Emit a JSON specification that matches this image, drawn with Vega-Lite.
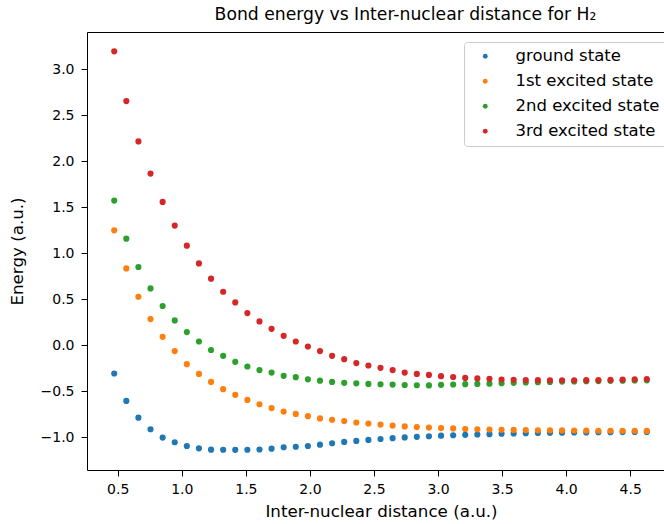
{
  "$schema": "https://vega.github.io/schema/vega-lite/v6.json",
  "autosize": "none",
  "padding": {"left": 87, "top": 32, "right": 0, "bottom": 54},
  "width": 577,
  "height": 438,
  "background": "white",
  "config": {
    "font": "DejaVu Sans",
    "view": {"stroke": null},
    "axis": {
      "grid": false,
      "domainColor": "#000",
      "domainWidth": 1,
      "tickColor": "#000",
      "tickWidth": 1,
      "tickSize": 6,
      "labelFont": "DejaVu Sans",
      "labelFontSize": 14,
      "labelColor": "#000",
      "labelPadding": 6,
      "titleFont": "DejaVu Sans",
      "titleFontSize": 16.7,
      "titleFontWeight": "normal",
      "titleColor": "#000"
    },
    "legend": {
      "orient": "none",
      "legendX": 377,
      "legendY": 10,
      "fillColor": "white",
      "strokeColor": "#cccccc",
      "cornerRadius": 3,
      "padding": 6,
      "labelFont": "DejaVu Sans",
      "labelFontSize": 16.5,
      "labelColor": "#000",
      "symbolType": "circle",
      "symbolSize": 24,
      "symbolStrokeWidth": 0,
      "symbolOffset": 7,
      "labelOffset": 22,
      "rowPadding": 8
    }
  },
  "title": {
    "text": "Bond energy vs Inter-nuclear distance for H₂",
    "fontSize": 17.2,
    "fontWeight": "normal",
    "font": "DejaVu Sans",
    "color": "#000",
    "anchor": "middle",
    "dx": 30,
    "offset": 9
  },
  "data": {
    "values": [
      {"x": 0.4724, "E": -0.307, "state": "ground state"},
      {"x": 0.5669, "E": -0.605, "state": "ground state"},
      {"x": 0.6614, "E": -0.787, "state": "ground state"},
      {"x": 0.7559, "E": -0.913, "state": "ground state"},
      {"x": 0.8504, "E": -1.004, "state": "ground state"},
      {"x": 0.9449, "E": -1.054, "state": "ground state"},
      {"x": 1.0394, "E": -1.095, "state": "ground state"},
      {"x": 1.1338, "E": -1.120, "state": "ground state"},
      {"x": 1.2283, "E": -1.135, "state": "ground state"},
      {"x": 1.3228, "E": -1.136, "state": "ground state"},
      {"x": 1.4173, "E": -1.137, "state": "ground state"},
      {"x": 1.5118, "E": -1.136, "state": "ground state"},
      {"x": 1.6063, "E": -1.133, "state": "ground state"},
      {"x": 1.7008, "E": -1.124, "state": "ground state"},
      {"x": 1.7952, "E": -1.109, "state": "ground state"},
      {"x": 1.8897, "E": -1.103, "state": "ground state"},
      {"x": 1.9842, "E": -1.095, "state": "ground state"},
      {"x": 2.0787, "E": -1.081, "state": "ground state"},
      {"x": 2.1732, "E": -1.065, "state": "ground state"},
      {"x": 2.2677, "E": -1.051, "state": "ground state"},
      {"x": 2.3622, "E": -1.040, "state": "ground state"},
      {"x": 2.4566, "E": -1.029, "state": "ground state"},
      {"x": 2.5511, "E": -1.019, "state": "ground state"},
      {"x": 2.6456, "E": -1.010, "state": "ground state"},
      {"x": 2.7401, "E": -1.002, "state": "ground state"},
      {"x": 2.8346, "E": -0.995, "state": "ground state"},
      {"x": 2.9291, "E": -0.989, "state": "ground state"},
      {"x": 3.0236, "E": -0.983, "state": "ground state"},
      {"x": 3.1181, "E": -0.978, "state": "ground state"},
      {"x": 3.2125, "E": -0.974, "state": "ground state"},
      {"x": 3.3070, "E": -0.970, "state": "ground state"},
      {"x": 3.4015, "E": -0.966, "state": "ground state"},
      {"x": 3.4960, "E": -0.962, "state": "ground state"},
      {"x": 3.5905, "E": -0.959, "state": "ground state"},
      {"x": 3.6850, "E": -0.956, "state": "ground state"},
      {"x": 3.7795, "E": -0.954, "state": "ground state"},
      {"x": 3.8739, "E": -0.952, "state": "ground state"},
      {"x": 3.9684, "E": -0.950, "state": "ground state"},
      {"x": 4.0629, "E": -0.948, "state": "ground state"},
      {"x": 4.1574, "E": -0.947, "state": "ground state"},
      {"x": 4.2519, "E": -0.946, "state": "ground state"},
      {"x": 4.3464, "E": -0.945, "state": "ground state"},
      {"x": 4.4409, "E": -0.944, "state": "ground state"},
      {"x": 4.5353, "E": -0.943, "state": "ground state"},
      {"x": 4.6298, "E": -0.942, "state": "ground state"},

      {"x": 0.4724, "E": 1.250, "state": "1st excited state"},
      {"x": 0.5669, "E": 0.836, "state": "1st excited state"},
      {"x": 0.6614, "E": 0.528, "state": "1st excited state"},
      {"x": 0.7559, "E": 0.285, "state": "1st excited state"},
      {"x": 0.8504, "E": 0.092, "state": "1st excited state"},
      {"x": 0.9449, "E": -0.063, "state": "1st excited state"},
      {"x": 1.0394, "E": -0.205, "state": "1st excited state"},
      {"x": 1.1338, "E": -0.311, "state": "1st excited state"},
      {"x": 1.2283, "E": -0.398, "state": "1st excited state"},
      {"x": 1.3228, "E": -0.477, "state": "1st excited state"},
      {"x": 1.4173, "E": -0.539, "state": "1st excited state"},
      {"x": 1.5118, "E": -0.594, "state": "1st excited state"},
      {"x": 1.6063, "E": -0.641, "state": "1st excited state"},
      {"x": 1.7008, "E": -0.683, "state": "1st excited state"},
      {"x": 1.7952, "E": -0.721, "state": "1st excited state"},
      {"x": 1.8897, "E": -0.746, "state": "1st excited state"},
      {"x": 1.9842, "E": -0.771, "state": "1st excited state"},
      {"x": 2.0787, "E": -0.795, "state": "1st excited state"},
      {"x": 2.1732, "E": -0.810, "state": "1st excited state"},
      {"x": 2.2677, "E": -0.824, "state": "1st excited state"},
      {"x": 2.3622, "E": -0.840, "state": "1st excited state"},
      {"x": 2.4566, "E": -0.850, "state": "1st excited state"},
      {"x": 2.5511, "E": -0.862, "state": "1st excited state"},
      {"x": 2.6456, "E": -0.873, "state": "1st excited state"},
      {"x": 2.7401, "E": -0.882, "state": "1st excited state"},
      {"x": 2.8346, "E": -0.889, "state": "1st excited state"},
      {"x": 2.9291, "E": -0.895, "state": "1st excited state"},
      {"x": 3.0236, "E": -0.900, "state": "1st excited state"},
      {"x": 3.1181, "E": -0.904, "state": "1st excited state"},
      {"x": 3.2125, "E": -0.910, "state": "1st excited state"},
      {"x": 3.3070, "E": -0.913, "state": "1st excited state"},
      {"x": 3.4015, "E": -0.916, "state": "1st excited state"},
      {"x": 3.4960, "E": -0.918, "state": "1st excited state"},
      {"x": 3.5905, "E": -0.920, "state": "1st excited state"},
      {"x": 3.6850, "E": -0.922, "state": "1st excited state"},
      {"x": 3.7795, "E": -0.924, "state": "1st excited state"},
      {"x": 3.8739, "E": -0.925, "state": "1st excited state"},
      {"x": 3.9684, "E": -0.926, "state": "1st excited state"},
      {"x": 4.0629, "E": -0.927, "state": "1st excited state"},
      {"x": 4.1574, "E": -0.928, "state": "1st excited state"},
      {"x": 4.2519, "E": -0.929, "state": "1st excited state"},
      {"x": 4.3464, "E": -0.929, "state": "1st excited state"},
      {"x": 4.4409, "E": -0.930, "state": "1st excited state"},
      {"x": 4.5353, "E": -0.930, "state": "1st excited state"},
      {"x": 4.6298, "E": -0.931, "state": "1st excited state"},

      {"x": 0.4724, "E": 1.573, "state": "2nd excited state"},
      {"x": 0.5669, "E": 1.159, "state": "2nd excited state"},
      {"x": 0.6614, "E": 0.851, "state": "2nd excited state"},
      {"x": 0.7559, "E": 0.618, "state": "2nd excited state"},
      {"x": 0.8504, "E": 0.427, "state": "2nd excited state"},
      {"x": 0.9449, "E": 0.270, "state": "2nd excited state"},
      {"x": 1.0394, "E": 0.143, "state": "2nd excited state"},
      {"x": 1.1338, "E": 0.041, "state": "2nd excited state"},
      {"x": 1.2283, "E": -0.051, "state": "2nd excited state"},
      {"x": 1.3228, "E": -0.115, "state": "2nd excited state"},
      {"x": 1.4173, "E": -0.180, "state": "2nd excited state"},
      {"x": 1.5118, "E": -0.231, "state": "2nd excited state"},
      {"x": 1.6063, "E": -0.270, "state": "2nd excited state"},
      {"x": 1.7008, "E": -0.297, "state": "2nd excited state"},
      {"x": 1.7952, "E": -0.332, "state": "2nd excited state"},
      {"x": 1.8897, "E": -0.347, "state": "2nd excited state"},
      {"x": 1.9842, "E": -0.370, "state": "2nd excited state"},
      {"x": 2.0787, "E": -0.385, "state": "2nd excited state"},
      {"x": 2.1732, "E": -0.398, "state": "2nd excited state"},
      {"x": 2.2677, "E": -0.408, "state": "2nd excited state"},
      {"x": 2.3622, "E": -0.414, "state": "2nd excited state"},
      {"x": 2.4566, "E": -0.420, "state": "2nd excited state"},
      {"x": 2.5511, "E": -0.424, "state": "2nd excited state"},
      {"x": 2.6456, "E": -0.427, "state": "2nd excited state"},
      {"x": 2.7401, "E": -0.432, "state": "2nd excited state"},
      {"x": 2.8346, "E": -0.435, "state": "2nd excited state"},
      {"x": 2.9291, "E": -0.436, "state": "2nd excited state"},
      {"x": 3.0236, "E": -0.430, "state": "2nd excited state"},
      {"x": 3.1181, "E": -0.426, "state": "2nd excited state"},
      {"x": 3.2125, "E": -0.423, "state": "2nd excited state"},
      {"x": 3.3070, "E": -0.420, "state": "2nd excited state"},
      {"x": 3.4015, "E": -0.417, "state": "2nd excited state"},
      {"x": 3.4960, "E": -0.412, "state": "2nd excited state"},
      {"x": 3.5905, "E": -0.408, "state": "2nd excited state"},
      {"x": 3.6850, "E": -0.405, "state": "2nd excited state"},
      {"x": 3.7795, "E": -0.402, "state": "2nd excited state"},
      {"x": 3.8739, "E": -0.398, "state": "2nd excited state"},
      {"x": 3.9684, "E": -0.395, "state": "2nd excited state"},
      {"x": 4.0629, "E": -0.393, "state": "2nd excited state"},
      {"x": 4.1574, "E": -0.391, "state": "2nd excited state"},
      {"x": 4.2519, "E": -0.389, "state": "2nd excited state"},
      {"x": 4.3464, "E": -0.387, "state": "2nd excited state"},
      {"x": 4.4409, "E": -0.385, "state": "2nd excited state"},
      {"x": 4.5353, "E": -0.383, "state": "2nd excited state"},
      {"x": 4.6298, "E": -0.381, "state": "2nd excited state"},

      {"x": 0.4724, "E": 3.196, "state": "3rd excited state"},
      {"x": 0.5669, "E": 2.655, "state": "3rd excited state"},
      {"x": 0.6614, "E": 2.216, "state": "3rd excited state"},
      {"x": 0.7559, "E": 1.867, "state": "3rd excited state"},
      {"x": 0.8504, "E": 1.559, "state": "3rd excited state"},
      {"x": 0.9449, "E": 1.301, "state": "3rd excited state"},
      {"x": 1.0394, "E": 1.083, "state": "3rd excited state"},
      {"x": 1.1338, "E": 0.890, "state": "3rd excited state"},
      {"x": 1.2283, "E": 0.724, "state": "3rd excited state"},
      {"x": 1.3228, "E": 0.582, "state": "3rd excited state"},
      {"x": 1.4173, "E": 0.466, "state": "3rd excited state"},
      {"x": 1.5118, "E": 0.350, "state": "3rd excited state"},
      {"x": 1.6063, "E": 0.259, "state": "3rd excited state"},
      {"x": 1.7008, "E": 0.179, "state": "3rd excited state"},
      {"x": 1.7952, "E": 0.103, "state": "3rd excited state"},
      {"x": 1.8897, "E": 0.041, "state": "3rd excited state"},
      {"x": 1.9842, "E": -0.013, "state": "3rd excited state"},
      {"x": 2.0787, "E": -0.063, "state": "3rd excited state"},
      {"x": 2.1732, "E": -0.115, "state": "3rd excited state"},
      {"x": 2.2677, "E": -0.151, "state": "3rd excited state"},
      {"x": 2.3622, "E": -0.194, "state": "3rd excited state"},
      {"x": 2.4566, "E": -0.220, "state": "3rd excited state"},
      {"x": 2.5511, "E": -0.245, "state": "3rd excited state"},
      {"x": 2.6456, "E": -0.270, "state": "3rd excited state"},
      {"x": 2.7401, "E": -0.297, "state": "3rd excited state"},
      {"x": 2.8346, "E": -0.311, "state": "3rd excited state"},
      {"x": 2.9291, "E": -0.322, "state": "3rd excited state"},
      {"x": 3.0236, "E": -0.336, "state": "3rd excited state"},
      {"x": 3.1181, "E": -0.345, "state": "3rd excited state"},
      {"x": 3.2125, "E": -0.355, "state": "3rd excited state"},
      {"x": 3.3070, "E": -0.360, "state": "3rd excited state"},
      {"x": 3.4015, "E": -0.365, "state": "3rd excited state"},
      {"x": 3.4960, "E": -0.372, "state": "3rd excited state"},
      {"x": 3.5905, "E": -0.376, "state": "3rd excited state"},
      {"x": 3.6850, "E": -0.378, "state": "3rd excited state"},
      {"x": 3.7795, "E": -0.379, "state": "3rd excited state"},
      {"x": 3.8739, "E": -0.380, "state": "3rd excited state"},
      {"x": 3.9684, "E": -0.380, "state": "3rd excited state"},
      {"x": 4.0629, "E": -0.380, "state": "3rd excited state"},
      {"x": 4.1574, "E": -0.379, "state": "3rd excited state"},
      {"x": 4.2519, "E": -0.378, "state": "3rd excited state"},
      {"x": 4.3464, "E": -0.377, "state": "3rd excited state"},
      {"x": 4.4409, "E": -0.374, "state": "3rd excited state"},
      {"x": 4.5353, "E": -0.370, "state": "3rd excited state"},
      {"x": 4.6298, "E": -0.367, "state": "3rd excited state"}
    ]
  },
  "layer": [
    {
      "mark": {"type": "circle", "size": 38, "opacity": 1},
      "encoding": {
        "x": {
          "field": "x",
          "type": "quantitative",
          "scale": {"domain": [0.26, 4.764], "nice": false, "zero": false},
          "axis": {
            "orient": "bottom",
            "title": "Inter-nuclear distance (a.u.)",
            "values": [0.5, 1.0, 1.5, 2.0, 2.5, 3.0, 3.5, 4.0, 4.5],
            "format": ".1f",
            "titlePadding": 7,
            "titleX": 294
          }
        },
        "y": {
          "field": "E",
          "type": "quantitative",
          "scale": {"domain": [-1.356, 3.406], "nice": false, "zero": false},
          "axis": {
            "title": "Energy (a.u.)",
            "values": [-1.0, -0.5, 0.0, 0.5, 1.0, 1.5, 2.0, 2.5, 3.0],
            "format": ".1f",
            "labelPadding": 7,
            "titlePadding": 14
          }
        },
        "color": {
          "field": "state",
          "type": "nominal",
          "sort": null,
          "scale": {
            "domain": ["ground state", "1st excited state", "2nd excited state", "3rd excited state"],
            "range": ["#1f77b4", "#ff7f0e", "#2ca02c", "#d62728"]
          },
          "legend": {"title": null}
        }
      }
    },
    {
      "mark": {"type": "rule", "opacity": 0},
      "encoding": {
        "x": {
          "field": "x",
          "type": "quantitative",
          "axis": {"orient": "top", "labels": false, "ticks": false, "title": null, "domain": true}
        }
      }
    }
  ],
  "resolve": {"axis": {"x": "independent"}}
}
